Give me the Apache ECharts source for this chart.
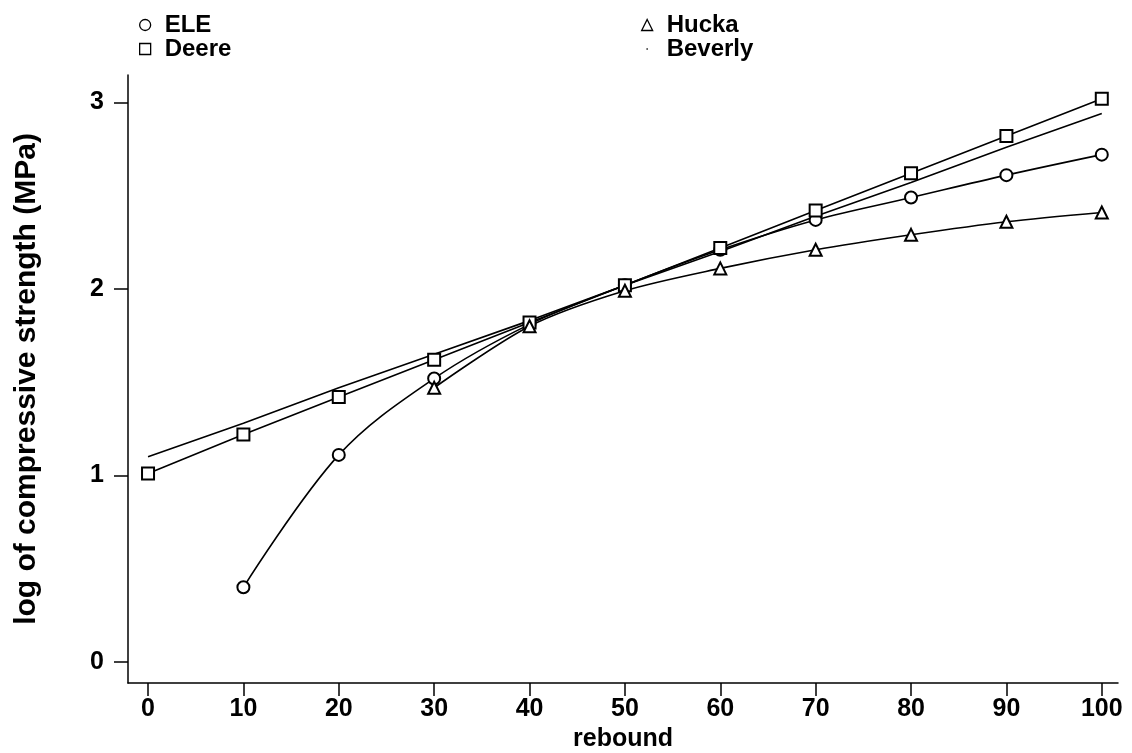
<!DOCTYPE html>
<html>
<head>
<meta charset="utf-8">
<script src="https://cdn.jsdelivr.net/npm/echarts@6/dist/echarts.min.js"></script>
<style>
  html, body { margin: 0; padding: 0; background: #fff; }
  #chart { width: 1132px; height: 753px; }
</style>
</head>
<body>
<div id="chart"></div>
<script>
// rebound values on the x axis
const xTicks = [0, 10, 20, 30, 40, 50, 60, 70, 80, 90, 100];
const yTicks = [0, 1, 2, 3];

// log of compressive strength per relation
const eleX = [10, 20, 30, 40, 50, 60, 70, 80, 90, 100];
const eleY = [0.40, 1.11, 1.52, 1.81, 2.02, 2.21, 2.37, 2.49, 2.61, 2.72];

const deereX = [0, 10, 20, 30, 40, 50, 60, 70, 80, 90, 100];
const deereY = [1.01, 1.22, 1.42, 1.62, 1.82, 2.02, 2.22, 2.42, 2.62, 2.82, 3.02];

const huckaX = [30, 40, 50, 60, 70, 80, 90, 100];
const huckaY = [1.47, 1.80, 1.99, 2.11, 2.21, 2.29, 2.36, 2.41];

const beverlyX = [0, 10, 20, 30, 40, 50, 60, 70, 80, 90, 100];
const beverlyY = [1.10, 1.28, 1.47, 1.65, 1.83, 2.02, 2.20, 2.39, 2.57, 2.76, 2.94];

const pairs = (xs, ys) => xs.map((x, i) => [x, ys[i]]);

const font = 'Liberation Sans';
const dotIcon = 'path://M0 0h0.01v0.01h-0.01z M4.4 4.4h1.2v1.2h-1.2z M10 10h0.01v0.01h-0.01z';

function lineSeries(name, data, symbol, smooth) {
    return {
        name: name,
        type: 'line',
        data: data,
        symbol: symbol,
        symbolSize: 12,
        smooth: smooth,
        lineStyle: { color: '#000', width: 1.6 },
        itemStyle: { color: '#000', borderColor: '#000', borderWidth: 1.4 },
        emphasis: { disabled: true },
        z: 3
    };
}

const legendText = { fontFamily: font, fontWeight: 'bold', fontSize: 24, color: '#000', lineHeight: 23, padding: [0, 0, 0, 9] };
const legendIconStyle = { color: '#fff', borderColor: '#000', borderWidth: 1.3 };

const option = {
    animation: false,
    backgroundColor: '#fff',
    grid: { left: 128, right: 14, top: 75, bottom: 70, outerBoundsMode: 'none', containLabel: false },
    legend: [
        {
            orient: 'vertical', left: 134, top: 8, itemGap: 0,
            itemWidth: 11, itemHeight: 11,
            textStyle: legendText,
            data: [
                { name: 'ELE', icon: 'circle', itemStyle: legendIconStyle },
                { name: 'Deere', icon: 'rect', itemStyle: legendIconStyle }
            ]
        },
        {
            orient: 'vertical', left: 636, top: 8, itemGap: 0,
            itemWidth: 11, itemHeight: 11,
            textStyle: legendText,
            data: [
                { name: 'Hucka', icon: 'triangle', itemStyle: legendIconStyle },
                { name: 'Beverly', icon: dotIcon, itemStyle: { color: '#000', borderWidth: 0 } }
            ]
        }
    ],
    xAxis: {
        type: 'value',
        min: -2.1,
        max: 101.7,
        name: 'rebound',
        nameLocation: 'middle',
        nameGap: 36,
        nameTextStyle: { fontFamily: font, fontWeight: 'bold', fontSize: 25, color: '#000' },
        axisLine: { onZero: false, lineStyle: { color: '#000', width: 1.5 } },
        axisTick: { customValues: xTicks, length: 13, lineStyle: { color: '#000', width: 1.5 } },
        axisLabel: { customValues: xTicks, margin: 14, fontFamily: font, fontWeight: 'bold', fontSize: 25, color: '#000' },
        splitLine: { show: false }
    },
    yAxis: {
        type: 'value',
        min: -0.113,
        max: 3.147,
        name: 'log of compressive strength (MPa)',
        nameLocation: 'middle',
        nameGap: 86,
        nameTextStyle: { fontFamily: font, fontWeight: 'bold', fontSize: 30, color: '#000' },
        axisLine: { onZero: false, lineStyle: { color: '#000', width: 1.5 } },
        axisTick: { customValues: yTicks, length: 14, lineStyle: { color: '#000', width: 1.5 } },
        axisLabel: { customValues: yTicks, margin: 24, fontFamily: font, fontWeight: 'bold', fontSize: 25, color: '#000' },
        splitLine: { show: false }
    },
    series: [
        lineSeries('ELE', pairs(eleX, eleY), 'emptyCircle', 0.35),
        lineSeries('Deere', pairs(deereX, deereY), 'emptyRect', false),
        lineSeries('Hucka', pairs(huckaX, huckaY), 'emptyTriangle', 0.3),
        lineSeries('Beverly', pairs(beverlyX, beverlyY), 'none', false)
    ]
};

const myChart = echarts.init(document.getElementById('chart'));
myChart.setOption(option);
window.addEventListener('resize', () => {
    myChart.resize();
});
</script>
</body>
</html>
